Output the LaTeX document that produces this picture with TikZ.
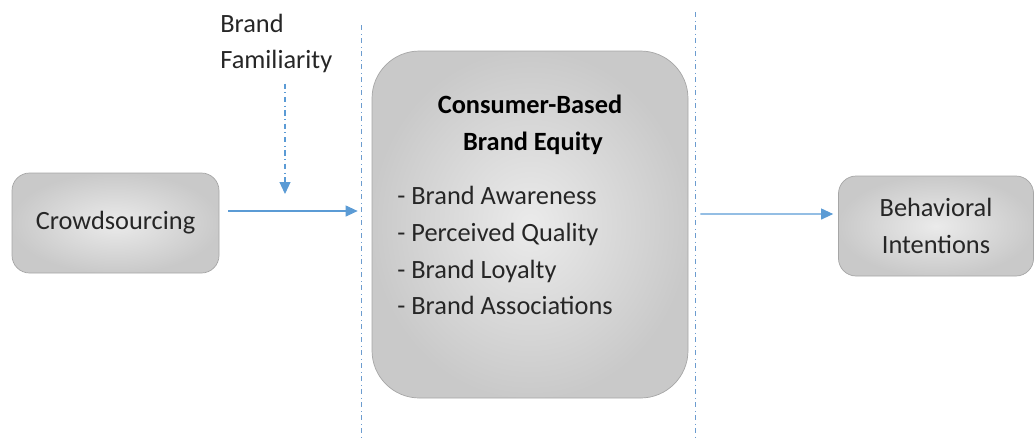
\documentclass[tikz,border=0pt]{standalone}
\usepackage{fontspec}
\setmainfont{Carlito}
\usepackage{xcolor}
\usepackage{tikz}
\usetikzlibrary{arrows.meta, positioning}
\definecolor{linkBlue}{HTML}{5B9BD5}
\definecolor{guideBlue}{HTML}{6C9CCF}
\definecolor{boxEdge}{HTML}{A6A6A6}
\definecolor{inkGrey}{HTML}{262626}

\begin{document}
\begin{tikzpicture}[
        box/.style={rectangle, draw=boxEdge, thin, rounded corners=10pt, inner color=gray!16, outer color=gray!42, align=center, text=inkGrey, font=\fontsize{15}{21}\selectfont},
        label/.style={inner sep=0pt, align=left, text=inkGrey, font=\fontsize{15}{21}\selectfont},
        arrow/.style={-{Triangle[length=2.4mm, width=2.2mm]}, semithick, color=linkBlue},
        guide/.style={dash dot, thin, color=guideBlue}]
    \useasboundingbox (0,0) rectangle (20.68,-8.82);

    % Boxes
    \node[box, minimum width=4.14cm, minimum height=2.0cm] (crowd) at (2.31,-4.46) {Crowdsourcing};
    \node[box, minimum width=6.32cm, minimum height=6.94cm, rounded corners=27pt] (cbbe) at (10.6,-4.49) {};
    \node[box, minimum width=3.9cm, minimum height=2.0cm] (intent) at (18.72,-4.52) {Behavioral\\Intentions};

    % Text inside the middle box
    \node[label, align=center, text=black, font=\fontsize{15}{21}\selectfont\bfseries] (title) at (10.6,-2.5) {Consumer-Based\\\ Brand Equity};
    \node[label, anchor=west] (dims) at (7.94,-5.01) {- Brand Awareness\\- Perceived Quality\\- Brand Loyalty\\- Brand Associations};

    % Moderator
    \node[label, anchor=west] (fam) at (4.4,-0.87) {Brand\\Familiarity};
    \coordinate (famtip) at (5.7,-3.88);

    % Guide lines
    \coordinate (guideL) at (7.22,-0.5);
    \coordinate (guideR) at (13.9,-0.24);
    \draw[guide] (guideL) -- (guideL |- 0,-8.82);
    \draw[guide] (guideR) -- (guideR |- 0,-8.82);

    % Arrows
    \draw[arrow] ([xshift=0.18cm, yshift=0.24cm]crowd.east) -- ([xshift=-0.28cm, yshift=0.27cm]cbbe.west);
    \draw[arrow] ([xshift=0.24cm, yshift=0.21cm]cbbe.east) -- ([xshift=-0.1cm, yshift=0.24cm]intent.west);
    \draw[arrow, dash dot, shorten <=0.2cm] (famtip |- fam.south) -- (famtip);
\end{tikzpicture}
\end{document}
